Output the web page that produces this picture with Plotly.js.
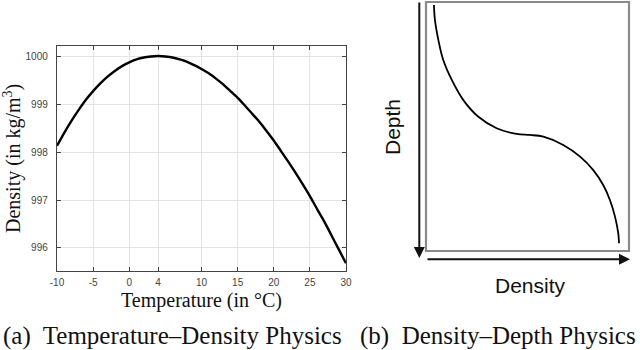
<!DOCTYPE html>
<html>
<head>
<meta charset="utf-8">
<script src="https://cdn.plot.ly/plotly-3.0.1.min.js"></script>
<style>
  html, body { margin: 0; padding: 0; background: #fff; }
  #plot { width: 640px; height: 350px; }
</style>
</head>
<body>
<div id="plot"></div>
<script>
// (a) water density vs temperature
const temperature = [-10, -9, -8, -7, -6, -5, -4, -3, -2, -1, 0, 1, 2, 3, 4, 5, 6, 7, 8, 9, 10,
    11, 12, 13, 14, 15, 16, 17, 18, 19, 20, 21, 22, 23, 24, 25, 26, 27, 28, 29, 30];
const density = [998.13, 998.40, 998.65, 998.88, 999.09, 999.27, 999.43, 999.57, 999.69, 999.79,
    999.87, 999.93, 999.97, 999.99, 1000.00, 999.99, 999.97, 999.93, 999.88, 999.81, 999.73,
    999.64, 999.53, 999.41, 999.27, 999.13, 998.97, 998.80, 998.63, 998.44, 998.24,
    998.02, 997.80, 997.57, 997.33, 997.08, 996.81, 996.55, 996.26, 995.97, 995.68];
const tempTicks = [-10, -5, 0, 4, 10, 15, 20, 25, 30];
const densTicks = [996, 997, 998, 999, 1000];

// (b) schematic density-depth profile (normalised units)
const profileDensity = [0.039, 0.044, 0.061, 0.085, 0.127, 0.184, 0.258, 0.348, 0.447, 0.512,
    0.578, 0.676, 0.759, 0.824, 0.873, 0.906, 0.931, 0.947, 0.951];
const profileDepth = [0.012, 0.072, 0.153, 0.233, 0.313, 0.394, 0.461, 0.507, 0.530, 0.534,
    0.541, 0.574, 0.621, 0.675, 0.735, 0.795, 0.862, 0.928, 0.969];

const W = 640, H = 350;
const px = x => x / W;
const py = y => 1 - y / H;

const serif = 'Liberation Serif, Times New Roman, serif';
const sans = 'Liberation Sans, Arial, sans-serif';

const data = [
    {
        x: temperature, y: density, type: 'scatter', mode: 'lines',
        line: { color: '#000', width: 2.4, shape: 'spline', smoothing: 0.6 },
        xaxis: 'x', yaxis: 'y', hoverinfo: 'skip'
    },
    {
        x: profileDensity, y: profileDepth, type: 'scatter', mode: 'lines',
        line: { color: '#000', width: 1.8, shape: 'spline', smoothing: 1 },
        xaxis: 'x2', yaxis: 'y2', hoverinfo: 'skip'
    }
];

const axisBase = {
    showline: true, mirror: 'ticks', linecolor: '#444', linewidth: 1.2,
    ticks: 'inside', ticklen: 4, tickcolor: '#444', tickwidth: 1,
    showgrid: true, gridcolor: '#e4e4e4', gridwidth: 1, zeroline: false,
    tickfont: { family: sans, size: 10, color: '#444' }
};

const layout = {
    width: W, height: H,
    margin: { l: 0, r: 0, t: 0, b: 0 },
    paper_bgcolor: '#fff', plot_bgcolor: '#fff',
    showlegend: false,
    xaxis: Object.assign({}, axisBase, {
        domain: [px(57), px(346)], range: [-10, 30],
        tickmode: 'array', tickvals: tempTicks, ticktext: tempTicks.map(String),
        ticklabelstandoff: 2, anchor: 'y'
    }),
    yaxis: Object.assign({}, axisBase, {
        domain: [py(271), py(46)], range: [995.52, 1000.21],
        tickmode: 'array', tickvals: densTicks, ticktext: densTicks.map(String),
        ticklabelstandoff: 6, anchor: 'x'
    }),
    xaxis2: {
        domain: [px(426), px(629)], range: [0, 1], anchor: 'y2',
        showline: false, showgrid: false, zeroline: false, showticklabels: false, ticks: ''
    },
    yaxis2: {
        domain: [py(251), py(2)], range: [1, 0], anchor: 'x2',
        showline: false, showgrid: false, zeroline: false, showticklabels: false, ticks: ''
    },
    shapes: [
        {
            type: 'rect', xref: 'x2 domain', yref: 'y2 domain', x0: 0, x1: 1, y0: 0, y1: 1,
            line: { color: '#8a8a8a', width: 2.2 }, fillcolor: 'rgba(0,0,0,0)'
        }
    ],
    annotations: [
        {
            text: 'Temperature (in °C)', xref: 'paper', yref: 'paper',
            x: px(201.5), y: py(300.5), xanchor: 'center', yanchor: 'middle', showarrow: false,
            font: { family: serif, size: 20, color: '#111' }
        },
        {
            text: 'Density (in kg/m<sup>3</sup>)', xref: 'paper', yref: 'paper',
            x: px(12), y: py(159), xanchor: 'center', yanchor: 'middle', showarrow: false,
            textangle: -90, font: { family: serif, size: 20, color: '#111' }
        },
        {
            text: 'Depth', xref: 'paper', yref: 'paper',
            x: px(392), y: py(127), xanchor: 'center', yanchor: 'middle', showarrow: false,
            textangle: -90, font: { family: sans, size: 21, color: '#111' }
        },
        {
            text: 'Density', xref: 'paper', yref: 'paper',
            x: px(530), y: py(285), xanchor: 'center', yanchor: 'middle', showarrow: false,
            font: { family: sans, size: 21, color: '#111' }
        },
        {
            // depth arrow, pointing down
            text: '', xref: 'paper', yref: 'paper', x: px(419.3), y: py(258),
            showarrow: true, ax: 0, ay: -257, arrowhead: 2, arrowsize: 1.1,
            arrowwidth: 2, arrowcolor: '#111', standoff: 0, startstandoff: 0
        },
        {
            // density arrow, pointing right
            text: '', xref: 'paper', yref: 'paper', x: px(630), y: py(259.3),
            showarrow: true, ax: -204, ay: 0, arrowhead: 2, arrowsize: 1.1,
            arrowwidth: 2, arrowcolor: '#111', standoff: 0, startstandoff: 0
        },
        {
            text: '(a)  Temperature–Density Physics', xref: 'paper', yref: 'paper',
            x: px(172), y: py(336), xanchor: 'center', yanchor: 'middle', showarrow: false,
            font: { family: serif, size: 25, color: '#111' }
        },
        {
            text: '(b)  Density–Depth Physics', xref: 'paper', yref: 'paper',
            x: px(497.5), y: py(336), xanchor: 'center', yanchor: 'middle', showarrow: false,
            font: { family: serif, size: 25, color: '#111' }
        }
    ]
};

Plotly.newPlot('plot', data, layout, { displayModeBar: false, staticPlot: true });
</script>
</body>
</html>
